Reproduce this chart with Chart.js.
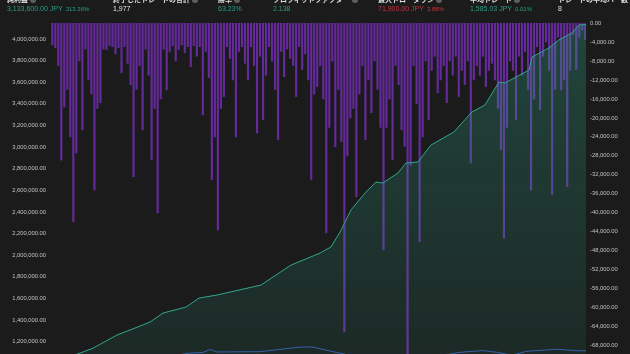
<!DOCTYPE html>
<html>
<head>
<meta charset="utf-8">
<script src="https://cdn.jsdelivr.net/npm/chart.js@4.4.1/dist/chart.umd.min.js"></script>
<style>
  html, body { margin: 0; padding: 0; background: #1b1b1b; overflow: hidden; width: 630px; height: 354px; }
  #wrap { position: relative; width: 630px; height: 380px; }
  #chart { position: absolute; left: 0; top: 0; }
  .stat { position: absolute; top: -5px; white-space: nowrap; font-family: 'Liberation Sans', Arial, sans-serif; }
  .stat .lbl { font-family: 'Noto Sans CJK JP', sans-serif; font-size: 7px; font-weight: bold; color: #dcdcdc; line-height: 9px; }
  .stat .q { display: inline-block; width: 6px; height: 6px; border-radius: 50%; background: #5f5f5f; margin-left: 2px; vertical-align: -1px; }
  .stat .val { font-size: 7px; line-height: 10px; }
  .stat .pct { font-size: 6px; margin-left: 3px; }
  .green { color: #2a9d86; }
  .red { color: #c8333d; }
  .white { color: #e2e2e2; }
</style>
</head>
<body>
<div id="wrap">
  <canvas id="chart" width="630" height="380"></canvas>
  <div id="stats"></div>
</div>
<script>
// header stats
const statLabels = ['純利益', '終了したトレードの合計', '勝率', 'プロフィットファクター', '最大ドローダウン', '平均トレード', 'トレードの平均バー数'];
const statValues = ['3,133,600.00 JPY', '1,977', '63.23%', '2.138', '71,900.00 JPY', '1,585.03 JPY', '8'];
const statPercents = ['313.36%', '', '', '', '3.88%', '0.01%', ''];
const statColors = ['green', 'white', 'green', 'green', 'red', 'green', 'white'];
const statLeft = [7, 113, 218, 273, 378, 470, 558];

// tick labels
const equityTicks = [1200000, 1400000, 1600000, 1800000, 2000000, 2200000, 2400000, 2600000, 2800000, 3000000, 3200000, 3400000, 3600000, 3800000, 4000000];
const drawdownTicks = [0, -4000, -8000, -12000, -16000, -20000, -24000, -28000, -32000, -36000, -40000, -44000, -48000, -52000, -56000, -60000, -64000, -68000];

// equity curve (trade number -> equity in JPY)
const equityTrades = [0, 111, 159, 247, 295, 369, 417, 502, 550, 616, 778, 889, 996, 1036, 1070, 1110, 1162, 1202, 1228, 1283, 1313, 1357, 1405, 1490, 1556, 1604, 1656, 1678, 1767, 1778, 1840, 1877, 1925, 1951, 1977];
const equityValues = [1000000, 1095000, 1141000, 1262000, 1308000, 1382000, 1465000, 1521000, 1604000, 1632000, 1724000, 1909000, 2020000, 2076000, 2215000, 2418000, 2575000, 2677000, 2668000, 2760000, 2853000, 2862000, 3019000, 3140000, 3325000, 3389000, 3602000, 3593000, 3713000, 3834000, 3917000, 3991000, 4056000, 4130000, 4133600];

// buy & hold line (mostly below the visible bottom edge)
const holdTrades = [0, 369, 516, 564, 590, 616, 774, 922, 966, 1014, 1058, 1106, 1291, 1475, 1512, 1597, 1649, 1704, 1759, 1870, 1936, 1977];
const holdValues = [1000000, 1040000, 1095000, 1100000, 1128000, 1105000, 1108000, 1150000, 1152000, 1125000, 1100000, 1075000, 1060000, 1085000, 1102000, 1118000, 1102000, 1075000, 1112000, 1130000, 1118000, 1115000];

// drawdown bars, one per slot from left to right (JPY)
const drawdown = [
  -4600, -5200, -9000, -28900, -17700, -14000, -24000, -41900, -27400, -8000,
  -22500, -5500, -12000, -15000, -35200, -18000, -16800, -5500, -5600, -4800,
  -5000, -6500, -5200, -10500, -5000, -8500, -13000, -32400, -14000, -9000,
  -22500, -5500, -11000, -28800, -18000, -40000, -16000, -5500, -14100, -6000,
  -4800, -8000, -5600, -4600, -6300, -5000, -9200, -4800, -7000, -5000,
  -19400, -6000, -11500, -33000, -24000, -43600, -18000, -15500, -5000, -7500,
  -12000, -24000, -6000, -5000, -8500, -12000, -5000, -9000, -23200, -7000,
  -20400, -11000, -5000, -8000, -14000, -24600, -6000, -11300, -5500, -7500,
  -9000, -15500, -5000, -9800, -6500, -12000, -33000, -15000, -13400, -9000,
  -16000, -44200, -22000, -8000, -26100, -14000, -25000, -65100, -28000, -20000,
  -18000, -36600, -15000, -9000, -24600, -12000, -18900, -8000, -14000, -22000,
  -47800, -22000, -16000, -28800, -9000, -13000, -22500, -26000, -71900, -30000,
  -9000, -17000, -46100, -24000, -8000, -20400, -10000, -7000, -14700, -12000,
  -9000, -16800, -8000, -11000, -7000, -15500, -10000, -13000, -8000, -29500,
  -12000, -9000, -11000, -7000, -13400, -10000, -8500, -12000, -18000, -26700,
  -45300, -22000, -8000, -10000, -20400, -7000, -11000, -6000, -14000, -35200,
  -16000, -5000, -18300, -7000, -4000, -10000, -36200, -14000, -3000, -14100,
  -12000, -34500, -10000, -2500, -9800, -3000, -1500, -3500
];
const slotLabels = drawdown.map((_, i) => String(i));

const statsEl = document.getElementById('stats');
statLabels.forEach((label, i) => {
  const div = document.createElement('div');
  div.className = 'stat';
  div.style.left = statLeft[i] + 'px';
  let html = `<div class="lbl">${label}<span class="q"></span></div>`;
  html += `<div class="val ${statColors[i]}">${statValues[i]}`;
  if (statPercents[i]) html += `<span class="pct">${statPercents[i]}</span>`;
  html += '</div>';
  div.innerHTML = html;
  statsEl.appendChild(div);
});

const fmt = (v) => Number(v).toLocaleString('en-US', { minimumFractionDigits: 2, maximumFractionDigits: 2 });
const tickFont = { family: "'Liberation Sans', Arial, sans-serif", size: 5.8 };

function equityFill(context) {
  const { ctx, chartArea } = context.chart;
  if (!chartArea) return 'rgba(46,160,130,0.2)';
  const g = ctx.createLinearGradient(0, chartArea.top, 0, chartArea.bottom);
  g.addColorStop(0, 'rgba(46,160,130,0.32)');
  g.addColorStop(1, 'rgba(46,160,130,0.10)');
  return g;
}

new Chart(document.getElementById('chart'), {
  type: 'bar',
  data: {
    labels: slotLabels,
    datasets: [
      {
        type: 'line',
        label: 'Equity',
        data: equityTrades.map((t, i) => ({ x: t, y: equityValues[i] })),
        xAxisID: 'x',
        yAxisID: 'y',
        borderColor: '#2ea88b',
        borderWidth: 1,
        backgroundColor: equityFill,
        fill: 'start',
        pointRadius: 0,
        tension: 0,
        order: 0
      },
      {
        type: 'line',
        label: 'Buy & hold',
        data: holdTrades.map((t, i) => ({ x: t, y: holdValues[i] })),
        xAxisID: 'x',
        yAxisID: 'y',
        borderColor: '#3559b0',
        borderWidth: 1,
        fill: false,
        pointRadius: 0,
        tension: 0,
        order: 0
      },
      {
        type: 'bar',
        label: 'Drawdown',
        data: drawdown,
        xAxisID: 'xb',
        yAxisID: 'y1',
        backgroundColor: 'rgba(112,44,172,0.88)',
        barPercentage: 1,
        categoryPercentage: 1,
        order: 1
      }
    ]
  },
  options: {
    responsive: false,
    animation: false,
    devicePixelRatio: 1,
    layout: { padding: { top: 23, bottom: 8, left: 0, right: 0 } },
    plugins: { legend: { display: false }, tooltip: { enabled: false } },
    scales: {
      x: { type: 'linear', min: 0, max: 1977, offset: false, display: false },
      xb: { type: 'category', labels: slotLabels, display: false, offset: true },
      y: {
        position: 'left',
        min: 920000,
        max: 4148000,
        grid: { display: false, drawTicks: false },
        border: { display: false },
        ticks: {
          autoSkip: false,
          padding: 4,
          color: '#c4c4c4',
          font: tickFont,
          callback: (v) => fmt(v)
        },
        afterBuildTicks: (s) => { s.ticks = equityTicks.map((v) => ({ value: v })); },
        afterFit: (s) => { s.width = 50; }
      },
      y1: {
        position: 'right',
        min: -73540,
        max: 0,
        grid: { display: false, drawTicks: false },
        border: { display: false },
        ticks: {
          autoSkip: false,
          padding: 4,
          color: '#c4c4c4',
          font: tickFont,
          callback: (v) => fmt(v)
        },
        afterBuildTicks: (s) => { s.ticks = drawdownTicks.map((v) => ({ value: v })); },
        afterFit: (s) => { s.width = 44; }
      }
    }
  }
});
</script>
</body>
</html>
